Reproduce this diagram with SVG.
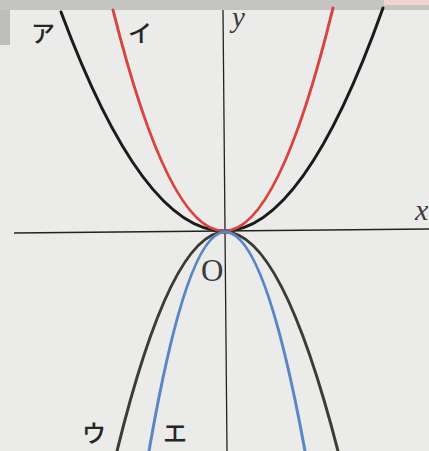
<svg xmlns="http://www.w3.org/2000/svg" width="429" height="451" viewBox="0 0 429 451">
  <style>
    .axis { stroke: #222; stroke-width: 1.3; fill: none; }
    .curve { fill: none; stroke-width: 3; stroke-linecap: round; }
    .kana { font-family: "Noto Sans CJK JP", "Noto Sans", sans-serif; font-size: 24px; font-weight: 500; fill: #262626; }
    .lat { font-family: "Liberation Serif", "Times New Roman", serif; fill: #3a3a3a; }
  </style>
  <rect x="0" y="0" width="429" height="451" fill="#ebebe9"/>
  <rect x="0" y="0" width="429" height="10" fill="#c4c4c2"/>
  <rect x="0" y="10" width="10" height="35" fill="#bdbdbb"/>
  <rect x="384" y="0" width="45" height="5" fill="#f2d3d0"/>

  <g id="axes">
    <line class="axis" x1="14" y1="233" x2="429" y2="229"/>
    <line class="axis" x1="223" y1="10" x2="227" y2="451"/>
  </g>

  <g id="connectors">
    <g id="curve-a">
      <path class="curve" stroke="#1b1b1b" d="M61,12 Q142.5,231 224,231 Q303.5,231 383,8"/>
    </g>
    <g id="curve-i">
      <path class="curve" stroke="#d9443f" d="M113,10 Q168.5,231 224,231 Q278.5,231 333,8"/>
    </g>
    <g id="curve-u">
      <path class="curve" stroke="#3b3d33" stroke-width="2.7" d="M117,451 Q171,232 225,232 Q281.5,232 338,451"/>
    </g>
    <g id="curve-e">
      <path class="curve" stroke="#5a86c6" d="M149,451 Q187,232 225,232 Q265,232 305,451"/>
    </g>
  </g>

  <g id="labels">
    <text class="kana" x="31" y="42">ア</text>
    <text class="kana" x="128" y="42">イ</text>
    <text class="kana" x="82" y="442">ウ</text>
    <text class="kana" x="163" y="442">エ</text>
    <text class="lat" x="201" y="281" font-size="31">O</text>
    <text class="lat" x="232" y="27" font-size="29" font-style="italic">y</text>
    <text class="lat" x="415" y="220" font-size="30" font-style="italic">x</text>
  </g>
</svg>
